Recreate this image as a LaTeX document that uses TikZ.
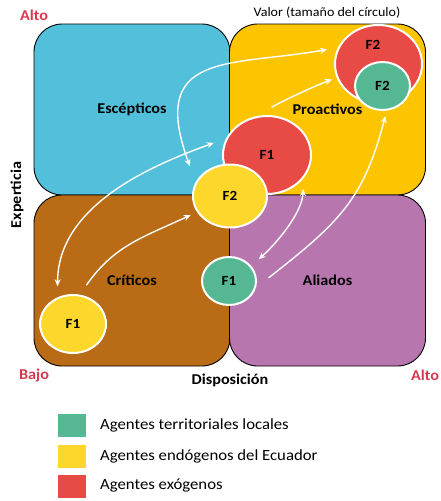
\documentclass[tikz,border=0pt]{standalone}
\usepackage{fontspec}
\setmainfont{Carlito}[FakeStretch=1.08]
\usetikzlibrary{shapes.geometric,arrows.meta}

\definecolor{qblue}{HTML}{52C0DB}
\definecolor{qgold}{HTML}{FDC400}
\definecolor{qbrown}{HTML}{B96B15}
\definecolor{qpurple}{HTML}{B777AE}
\definecolor{cred}{HTML}{E84A45}
\definecolor{cgreen}{HTML}{55B892}
\definecolor{cyellow}{HTML}{FDD72B}
\definecolor{axred}{HTML}{D8384F}

\newcommand\quadfont{\fontsize{15}{18}\selectfont\bfseries}
\newcommand\agfont{\fontsize{14}{16}\selectfont\bfseries}
\newcommand\legfont{\fontsize{15.5}{18}\selectfont}

\begin{document}
\begin{tikzpicture}[x=1pt,y=-1pt,
  quad/.style={draw=black, line width=0.9pt, rounded corners=28pt,
    minimum width=196pt, minimum height=171pt, inner sep=0pt, font=\quadfont},
  agent/.style={ellipse, draw=white, line width=2pt, inner sep=0pt, font=\agfont},
  axislbl/.style={font=\quadfont},
  endlbl/.style={font=\quadfont, text=axred},
  swatch/.style={minimum width=28pt, minimum height=23pt, inner sep=0pt},
  legtext/.style={anchor=west, font=\legfont, inner sep=0pt},
  tip/.tip={Stealth[length=7pt,width=6pt]},
  flow/.style={draw=white, line width=1.4pt, -tip},
  flowboth/.style={draw=white, line width=1.4pt, tip-tip}]
\useasboundingbox (0,0) rectangle (441,501);

% quadrants
\node[quad, fill=qblue]   (esc) at (132,109.5)   {Escépticos};
\node[quad, fill=qgold]   (pro) at (327.5,109.5) {Proactivos};
\node[quad, fill=qbrown]  (cri) at (132,280.5)   {Críticos};
\node[quad, fill=qpurple] (ali) at (327.5,280.5) {Aliados};

% axis texts
\node[endlbl] (altoY) at (34,15) {Alto};
\node[font=\fontsize{13}{15}\selectfont] (valor) at (327,13) {Valor (tamaño del círculo)};
\node[axislbl, rotate=90] (expe) at (17,195) {Experticia};
\node[endlbl] (bajo) at (34,375) {Bajo};
\node[axislbl] (disp) at (230,380) {Disposición};
\node[endlbl] (altoX) at (425,375) {Alto};

% agents (size = value)
\node[agent, fill=cyellow, minimum width=66pt, minimum height=58pt] (Y1) at (73,324) {F1};
\node[agent, fill=cgreen, minimum width=54pt, minimum height=48pt] (G1) at (229,281) {F1};
\node[agent, fill=cred, minimum width=88pt, minimum height=78pt] (R1) at (267,155) {F1};
\node[agent, fill=cyellow, minimum width=74pt, minimum height=63pt] (Y2) at (230,196) {F2};
\node[agent, fill=cred, minimum width=87pt, minimum height=78pt] (R2) at (378.5,64) {};
\node[font=\agfont] (R2t) at (373,45) {F2};
\node[agent, fill=cgreen, minimum width=55pt, minimum height=48pt] (G2) at (382.5,86) {F2};

% transitions between groups
\draw[flow, shorten <=11.5pt, shorten >=7pt]
  (Y1.77) .. controls +(55:60pt) and +(205:60pt) .. (Y2.206);
\draw[flowboth, shorten <=11pt, shorten >=13pt]
  (Y1.120) .. controls +(90:95pt) and +(200:70pt) .. (R1.158);
\draw[flowboth, shorten <=17pt, shorten >=11pt]
  (Y2.158) .. controls +(110:140pt) and +(190:110pt) .. (R2.158);
\draw[flow, shorten <=16pt, shorten >=5pt]
  (R1.103) .. controls +(32:25pt) and +(201:25pt) .. (R2.198);
\draw[flowboth, shorten <=10pt, shorten >=11pt]
  (G1.34) .. controls +(42:35pt) and +(267:35pt) .. (R1.328);
\draw[flow, shorten <=16pt, shorten >=5.5pt]
  (G1.346) .. controls +(38:110pt) and +(255:90pt) .. (G2.280);

% legend
\node[swatch, fill=cgreen]  (sw1) at (72,425.5) {};
\node[swatch, fill=cyellow] (sw2) at (72,456.5) {};
\node[swatch, fill=cred]    (sw3) at (72,486.5) {};
\node[legtext] (lt1) at (100,425) {Agentes territoriales locales};
\node[legtext] (lt2) at (100,456) {Agentes endógenos del Ecuador};
\node[legtext] (lt3) at (100,486) {Agentes exógenos};
\end{tikzpicture}
\end{document}
